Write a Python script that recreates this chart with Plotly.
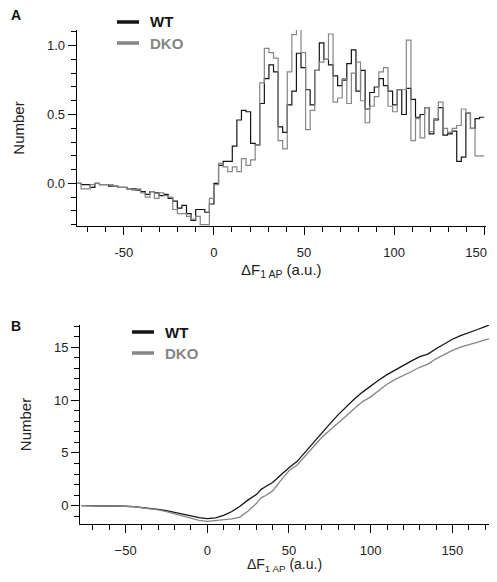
import numpy as np
import plotly.graph_objects as go

# ---- panel A: histogram of dF (1 AP), bins of equal width ----
BIN_WIDTH = 150 / 59
N_NEG_BINS = 30

wt_hist = [
    0.0, -0.01, -0.01, -0.03, 0.0, -0.01, -0.01, -0.02, -0.02, -0.03,
    -0.03, -0.04, -0.04, -0.05, -0.06, -0.08, -0.06, -0.07, -0.09, -0.08,
    -0.11, -0.13, -0.18, -0.16, -0.22, -0.27, -0.19, -0.19, -0.21, -0.15,
    0.0, 0.13, 0.16, 0.16, 0.27, 0.46, 0.53, 0.52, 0.29, 0.28,
    0.58, 0.76, 0.86, 0.81, 0.41, 0.37, 0.57, 0.67, 0.945, 0.84,
    0.68, 0.57, 0.82, 1.02, 0.90, 0.86, 0.78, 0.71, 0.75, 0.87,
    0.97, 0.67, 0.82, 0.54, 0.66, 0.70, 0.76, 0.71, 0.67, 0.57,
    0.68, 0.50, 0.69, 0.61, 0.48, 0.50, 0.55, 0.36, 0.46, 0.55,
    0.35, 0.36, 0.38, 0.16, 0.19, 0.51, 0.40, 0.47, 0.48,
]
dko_hist = [
    0.0, -0.04, -0.04, -0.01, 0.0, -0.01, -0.01, -0.01, -0.02, -0.03,
    -0.03, -0.04, -0.05, -0.04, -0.07, -0.10, -0.06, -0.11, -0.07, -0.09,
    -0.10, -0.19, -0.22, -0.22, -0.24, -0.26, -0.24, -0.30, -0.30, -0.11,
    -0.01, 0.145, 0.12, 0.085, 0.12, 0.085, 0.18, 0.13, 0.17, 0.28,
    0.73, 0.98, 0.95, 0.91, 0.31, 0.25, 0.81, 1.08, 1.15, 0.95,
    0.39, 0.53, 0.82, 0.88, 0.90, 1.085, 0.59, 0.62, 0.76, 0.58,
    0.80, 0.88, 0.60, 0.44, 0.56, 0.63, 0.81, 0.84, 0.56, 0.52,
    0.68, 0.68, 1.04, 0.31, 0.47, 0.33, 0.55, 0.375, 0.47, 0.59,
    0.40, 0.37, 0.40, 0.42, 0.54, 0.51, 0.40, 0.20, 0.20,
]
hist_ticks = [-50, 0, 50, 100, 150]

# ---- panel B: cumulative curves ----
cum_x = [-77, -70, -65, -60, -55, -50, -45, -40, -35, -30, -25, -20, -15, -10, -5,
         0, 5, 10, 15, 20, 25, 30, 33, 35, 40, 45, 50, 55, 60, 65, 70, 75, 80,
         85, 90, 95, 100, 105, 110, 115, 120, 125, 130, 135, 140, 145, 150,
         155, 160, 165, 170, 176]
wt_cum = [0.0, 0.0, -0.01, -0.02, -0.03, -0.05, -0.09, -0.16, -0.25, -0.35, -0.47,
          -0.63, -0.82, -0.98, -1.12, -1.22, -1.15, -0.92, -0.55, -0.05, 0.55, 1.05,
          1.55, 1.75, 2.2, 2.9, 3.6, 4.2, 5.1, 5.95, 6.95, 7.75, 8.6, 9.35, 10.1,
          10.75, 11.35, 11.9, 12.4, 12.85, 13.3, 13.7, 14.1, 14.35, 14.85, 15.3,
          15.75, 16.1, 16.35, 16.65, 16.95, 17.3]
dko_cum = [0.0, 0.0, -0.01, -0.02, -0.03, -0.06, -0.1, -0.18, -0.28, -0.4, -0.55,
           -0.75, -0.98, -1.2, -1.38, -1.48, -1.42, -1.33, -1.25, -1.08, -0.5, 0.2,
           0.75, 0.9, 1.4, 2.4, 3.3, 3.85, 4.7, 5.6, 6.45, 7.15, 7.8, 8.5, 9.2,
           9.85, 10.3, 10.9, 11.5, 11.95, 12.3, 12.7, 13.1, 13.4, 13.9, 14.3,
           14.7, 15.0, 15.2, 15.45, 15.7, 15.9]

WT_COLOR = "#151515"
DKO_COLOR = "#858585"
FONT = "Liberation Sans, Arial, sans-serif"
PAGE_OFF = 8  # default body margin of the html page
# keep the figure inside the window (margins on both sides) so nothing overflows
W, H = 497 - 2 * PAGE_OFF, 582 - 2 * PAGE_OFF

edges = BIN_WIDTH * (np.arange(len(wt_hist) + 1) - N_NEG_BINS)

fig = go.Figure()
for vals, color in [(wt_hist, WT_COLOR), (dko_hist, DKO_COLOR)]:
    fig.add_trace(go.Scatter(
        x=edges, y=list(vals) + [vals[-1]], mode="lines",
        line=dict(color=color, width=1.2, shape="hv"),
        xaxis="x", yaxis="y", showlegend=False, hoverinfo="skip",
    ))
for vals, color in [(wt_cum, WT_COLOR), (dko_cum, DKO_COLOR)]:
    fig.add_trace(go.Scatter(
        x=cum_x, y=vals, mode="lines",
        line=dict(color=color, width=1.3),
        xaxis="x2", yaxis="y2", showlegend=False, hoverinfo="skip",
    ))
# invisible trace so the helper axis (x3) gets drawn
fig.add_trace(go.Scatter(
    x=[hist_ticks[-1]], y=[0], mode="markers", marker=dict(opacity=0),
    xaxis="x3", yaxis="y", showlegend=False, hoverinfo="skip",
))


# page-pixel positions -> paper fractions
def px_x(p):
    return (p - PAGE_OFF) / W


def px_y(p):
    return 1 - (p - PAGE_OFF) / H


axis_common = dict(
    showline=True, linecolor="black", linewidth=1, showgrid=False, zeroline=False,
    ticks="outside", ticklen=8, tickwidth=1, tickcolor="black",
    tickfont=dict(family=FONT, size=13, color="#222"),
)
minor_common = dict(ticks="outside", ticklen=5, tick0=0, tickcolor="black")


def xtitle(standoff, size=15):
    return dict(text="ΔF<sub>1 AP</sub> (a.u.)",
                font=dict(family=FONT, size=size, color="#222"), standoff=standoff)


ytitle = dict(text="Number", font=dict(family=FONT, size=15, color="#222"), standoff=18)

top_x_dom = [px_x(76.7), px_x(486)]
top_x_rng = [-76.2, 151]

fig.update_layout(
    width=W, height=H, margin=dict(l=0, r=0, t=0, b=0),
    paper_bgcolor="white", plot_bgcolor="white",
    xaxis=dict(axis_common, domain=top_x_dom, range=top_x_rng,
               anchor="y", tickvals=hist_ticks,
               ticktext=[str(t) for t in hist_ticks[:-1]] + [""],
               ticklabelstandoff=6,
               minor=dict(minor_common, dtick=10), title=xtitle(5)),
    # last label of panel A nudged left so it stays inside the window
    xaxis3=dict(domain=top_x_dom, range=top_x_rng, anchor="y", overlaying="x",
                side="bottom", tickvals=hist_ticks[-1:], ticktext=[str(hist_ticks[-1])],
                ticks="outside", ticklen=8, tickcolor="rgba(0,0,0,0)",
                ticklabelstandoff=6, ticklabelshift=-8, ticklabeloverflow="allow",
                tickfont=dict(family=FONT, size=13, color="#222"),
                showline=False, showgrid=False, zeroline=False),
    yaxis=dict(axis_common, domain=[px_y(226), px_y(30)], range=[-0.31, 1.114],
               anchor="x", tickvals=[0, 0.5, 1.0], tickformat=".1f",
               minor=dict(minor_common, dtick=0.1), title=ytitle),
    xaxis2=dict(axis_common, domain=[px_x(80), px_x(489)], range=[-77.9, 172.4],
                anchor="y2", tickvals=hist_ticks, ticklabelstandoff=6,
                minor=dict(minor_common, dtick=10), title=xtitle(3, 14)),
    yaxis2=dict(axis_common, domain=[px_y(524), px_y(325)], range=[-1.73, 17.1],
                anchor="x2", tickvals=[0, 5, 10, 15],
                minor=dict(minor_common, dtick=1), title=ytitle),
)

# hand-drawn legends and panel letters
legend_rows = [
    (117, 139, 22, 148, "WT", WT_COLOR),
    (117, 139, 43, 148, "DKO", DKO_COLOR),
    (132, 154, 332, 163, "WT", WT_COLOR),
    (132, 154, 353, 163, "DKO", DKO_COLOR),
]
for x0, x1, yy, tx, label, color in legend_rows:
    fig.add_shape(type="line", xref="paper", yref="paper",
                  x0=px_x(x0), x1=px_x(x1), y0=px_y(yy), y1=px_y(yy),
                  line=dict(color=color, width=3.5))
    fig.add_annotation(xref="paper", yref="paper", x=px_x(tx), y=px_y(yy),
                       xanchor="left", yanchor="middle", showarrow=False,
                       text=f"<b>{label}</b>",
                       font=dict(family=FONT, size=15, color=color))

for label, yy in [("A", 15), ("B", 326)]:
    fig.add_annotation(xref="paper", yref="paper", x=px_x(9), y=px_y(yy),
                       xanchor="left", yanchor="middle", showarrow=False,
                       text=f"<b>{label}</b>",
                       font=dict(family=FONT, size=14, color="#111"))

fig.write_html("out.html")
